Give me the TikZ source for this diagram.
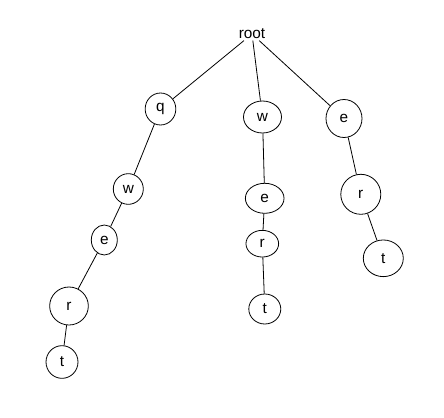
\documentclass[tikz,border=0pt]{standalone}
\usepackage{fontspec}
\setmainfont{Liberation Sans}
\usetikzlibrary{shapes.geometric}
\tikzset{
  every node/.style={font=\fontsize{11.5pt}{13pt}\selectfont,text=black},
  letter/.style={draw=black,ellipse,inner sep=0pt,line width=0.6pt},
  link/.style={draw=black,line width=0.6pt},
}
\begin{document}
\begin{tikzpicture}[x=0.75pt,y=-0.75pt]
  \useasboundingbox (0,0) rectangle (444,418);
  % top level
  \node[inner sep=1pt] (root) at (252,34) {root};
  \node[letter,minimum width=23pt,minimum height=24pt] (q1) at (160.5,109) {q};
  \node[letter,minimum width=28.5pt,minimum height=24pt] (w2) at (262.5,117) {w};
  \node[letter,minimum width=27pt,minimum height=28.5pt] (e3) at (344,118.5) {e};
  % branch q
  \node[letter,minimum width=22.5pt,minimum height=23pt] (w1) at (128.3,189) {w};
  \node[letter,minimum width=19.5pt,minimum height=22.5pt] (e1) at (104.3,240) {e};
  \node[letter,minimum width=29pt,minimum height=28.5pt] (r1) at (69,306) {r};
  \node[letter,minimum width=24pt,minimum height=24.5pt] (t1) at (62,362) {t};
  % branch w
  \node[letter,minimum width=29pt,minimum height=22.5pt] (e2) at (264.7,198.3) {e};
  \node[letter,minimum width=24.5pt,minimum height=20pt] (r2) at (262.3,243.7) {r};
  \node[letter,minimum width=24pt,minimum height=22.5pt] (t2) at (264.8,309) {t};
  % branch e
  \node[letter,minimum width=30pt,minimum height=30pt] (r3) at (360.8,194.3) {r};
  \node[letter,minimum width=30pt,minimum height=27.5pt] (t3) at (383.3,258.3) {t};
  % connectors
  \draw[link] (root) -- (q1);
  \draw[link] (root) -- (w2);
  \draw[link] (root) -- (e3);
  \draw[link] (q1) -- (w1);
  \draw[link] (w1) -- (e1);
  \draw[link] (e1) -- (r1);
  \draw[link] (r1) -- (t1);
  \draw[link] (w2) -- (e2);
  \draw[link] (e2) -- (r2);
  \draw[link] (r2) -- (t2);
  \draw[link] (e3) -- (r3);
  \draw[link] (r3) -- (t3);
\end{tikzpicture}
\end{document}
